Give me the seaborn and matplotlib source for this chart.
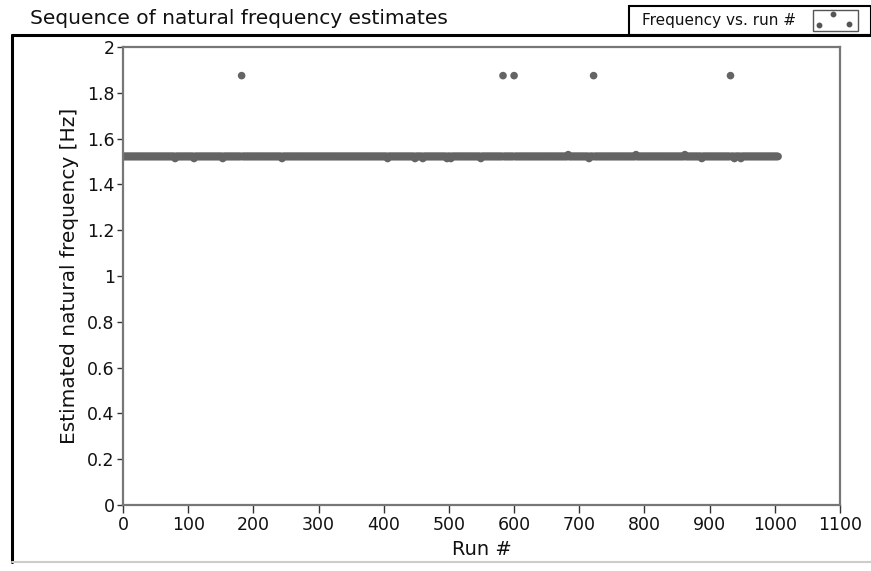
import numpy as np
import pandas as pd
import matplotlib
matplotlib.use("Agg")
import matplotlib.pyplot as plt
from matplotlib.patches import Rectangle
from matplotlib.lines import Line2D
from matplotlib.ticker import FuncFormatter
import seaborn as sns

# ---- data ----
n_runs = 1005
base_frequency = 1.522
dip_runs = [80, 109, 153, 244, 406, 448, 460, 497, 503, 549, 715, 888, 938, 948]
dip_frequency = 1.513
bump_runs = [683, 787, 862]
bump_frequency = 1.530
outlier_runs = [182, 583, 600, 722, 932]
outlier_frequency = 1.875

x_ticks = [0, 100, 200, 300, 400, 500, 600, 700, 800, 900, 1000, 1100]
y_ticks = [0, 0.2, 0.4, 0.6, 0.8, 1, 1.2, 1.4, 1.6, 1.8, 2]

runs = np.arange(1, n_runs + 1)
freq = np.full(n_runs, base_frequency)
for r in dip_runs:
    freq[r - 1] = dip_frequency
for r in bump_runs:
    freq[r - 1] = bump_frequency
for r in outlier_runs:
    freq[r - 1] = outlier_frequency
df = pd.DataFrame({"Run #": runs, "Frequency": freq})

sns.set_theme(style="white")
plt.rcParams['font.family'] = ['DejaVu Sans']

fig = plt.figure(figsize=(8.71, 5.71), dpi=100)
ax = fig.add_axes([123 / 871, 1 - 505 / 571, (840 - 123) / 871, (505 - 47) / 571])

sns.scatterplot(data=df, x="Run #", y="Frequency", ax=ax, color="#646464",
                s=30, edgecolor="none", linewidth=0, legend=False)

ax.set_xlim(0, 1100)
ax.set_ylim(0, 2)
ax.set_xticks(x_ticks)
ax.set_yticks(y_ticks)
ax.yaxis.set_major_formatter(FuncFormatter(lambda v, p: f"{v:g}"))
ax.tick_params(axis="both", which="major", direction="out", width=1,
               color="#333333", labelsize=12.5, labelcolor="#111111", pad=2,
               left=True, bottom=True)
ax.tick_params(axis="x", length=6)
ax.tick_params(axis="y", length=4)
for sp in ax.spines.values():
    sp.set_visible(True)
    sp.set_color("#777777")
    sp.set_linewidth(1.6)
ax.set_xlabel("Run #", fontsize=14, color="#111111", labelpad=4)
ax.set_ylabel("Estimated natural frequency [Hz]", fontsize=14.5, color="#111111", labelpad=6)
ax.grid(False)

# title bar
fig.text(30 / 871, 1 - 18 / 571, "Sequence of natural frequency estimates",
         fontsize=14.5, color="#111111", va="center", ha="left")

# outer frame lines
fig.add_artist(Line2D([12 / 871, 1.0], [1 - 35 / 571, 1 - 35 / 571], color="black", lw=2.2))
fig.add_artist(Line2D([12 / 871, 12 / 871], [1 - 35 / 571, 1 - 562 / 571], color="black", lw=2.2))
fig.add_artist(Line2D([12 / 871, 1.0], [1 - 562 / 571, 1 - 562 / 571], color="#cccccc", lw=1.5))

# legend box
fig.add_artist(Rectangle((629 / 871, 1 - 35 / 571), (871 - 629) / 871, 29 / 571,
                         transform=fig.transFigure, facecolor="white",
                         edgecolor="black", lw=1.5))
fig.text(642 / 871, 1 - 20 / 571, "Frequency vs. run #", fontsize=11,
         color="#111111", va="center", ha="left")
fig.add_artist(Rectangle((813 / 871, 1 - 31 / 571), 45 / 871, 21 / 571,
                         transform=fig.transFigure, facecolor="white",
                         edgecolor="#555555", lw=1))
for (px, py) in [(819, 25), (833, 14), (849, 24)]:
    fig.add_artist(Line2D([px / 871], [1 - py / 571], marker="o", markersize=3.2,
                          color="#555555", linestyle="none"))

fig.savefig("out.png", dpi=100)
